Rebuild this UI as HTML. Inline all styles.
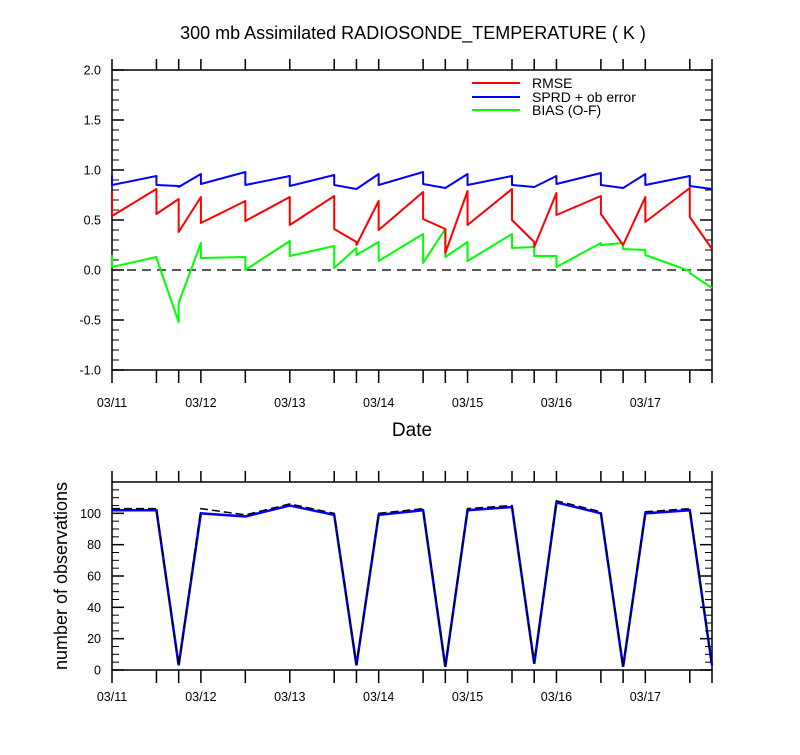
<!DOCTYPE html>
<html><head><meta charset="utf-8"><style>
body{margin:0;background:#fff;}
svg text{font-family:"Liberation Sans",sans-serif;fill:#000;}
</style></head><body>
<svg id="chart" width="800" height="750" xmlns="http://www.w3.org/2000/svg">
<text x="413" y="39" font-size="18" text-anchor="middle">300 mb Assimilated RADIOSONDE_TEMPERATURE ( K )</text>
<text x="412" y="436" font-size="19" text-anchor="middle">Date</text>
<text transform="translate(67,576) rotate(-90)" font-size="18" text-anchor="middle">number of observations</text>
<g id="topPanel"></g>
<g id="botPanel"></g>
<g id="legend">
<line x1="472" y1="83" x2="520" y2="83" stroke="#f00" stroke-width="2"/>
<text x="532" y="88" font-size="14">RMSE</text>
<line x1="472" y1="97" x2="520" y2="97" stroke="#00f" stroke-width="2"/>
<text x="532" y="102" font-size="14">SPRD + ob error</text>
<line x1="472" y1="110" x2="520" y2="110" stroke="#0f0" stroke-width="2"/>
<text x="532" y="115" font-size="14">BIAS (O-F)</text>
</g>
</svg>
<script>
const hours=[0,12,18,24,36,48,60,66,72,84,90,96,108,114,120,132,138,144,156,162];
const dayLabels=["03/11","03/12","03/13","03/14","03/15","03/16","03/17"];
const rmseIn=[0.78,0.81,0.71,0.73,0.69,0.73,0.74,0.28,0.69,0.78,0.41,0.79,0.81,0.28,0.77,0.74,0.25,0.73,0.82,0.21];
const rmseOut=[0.54,0.56,0.38,0.47,0.49,0.45,0.41,0.25,0.40,0.51,0.17,0.45,0.50,0.23,0.55,0.56,0.25,0.48,0.53,0.21];
const sprdIn=[0.95,0.94,0.84,0.96,0.98,0.94,0.95,0.81,0.96,0.98,0.82,0.96,0.94,0.83,0.94,0.97,0.82,0.96,0.94,0.81];
const sprdOut=[0.85,0.85,0.83,0.86,0.85,0.84,0.85,0.81,0.85,0.86,0.82,0.85,0.85,0.83,0.86,0.85,0.82,0.85,0.84,0.81];
const biasIn=[0.15,0.13,-0.52,0.27,0.13,0.29,0.24,0.22,0.28,0.36,0.41,0.28,0.36,0.23,0.14,0.27,0.27,0.20,-0.01,-0.18];
const biasOut=[0.03,0.12,-0.33,0.12,0.00,0.14,0.02,0.15,0.09,0.07,0.13,0.09,0.22,0.14,0.03,0.25,0.21,0.15,-0.03,-0.18];
const obsAssim=[102,102,3,100,98,105,99,3,99,102,2,102,104,4,107,100,2,100,102,3];
const obsTotal=[103,103,3,103,99,106,100,3,100,103,2,103,105,4,108,101,2,101,103,3];
const NS="http://www.w3.org/2000/svg";
const X0=112,X1=712,H0=0,H1=162;
function xs(h){return X0+(h-H0)/(H1-H0)*(X1-X0);}
function ty(v){return 370-(v+1)/3*300;}
function by(v){return 670-v/120*188;}
function mk(p,tag,at){const e=document.createElementNS(NS,tag);for(const k in at)e.setAttribute(k,at[k]);p.appendChild(e);return e;}
const topG=document.getElementById('topPanel'),botG=document.getElementById('botPanel');
function frame(g,yT,yB,name){
  const r=mk(g,'rect',{x:X0,y:yT,width:X1-X0,height:yB-yT,fill:'none',stroke:'#000','stroke-width':1.5});
  
  
  hours.forEach(h=>{
    const x=xs(h);
    const a=mk(g,'line',{x1:x,y1:yT-11,x2:x,y2:yT,stroke:'#000','stroke-width':1.5});
    
    
    const b=mk(g,'line',{x1:x,y1:yB,x2:x,y2:yB+13,stroke:'#000','stroke-width':1.5});
    
    
  });
}
function xlabels(g,y){
  dayLabels.forEach((d,i)=>{
    const t=mk(g,'text',{x:xs(i*24),y:y,'font-size':12.5,'text-anchor':'middle'});
    t.textContent=d;
    
    
  });
}
function yticks(g,vals,minors,yf,fmt,majLen){
  minors.forEach(v=>{
    [[X0,X0+7],[X1,X1-7]].forEach(([a,b])=>{
      const l=mk(g,'line',{x1:a,y1:yf(v),x2:b,y2:yf(v),stroke:'#000','stroke-width':1});
      
      
    });
  });
  vals.forEach(v=>{
    [[X0,X0+majLen],[X1,X1-majLen]].forEach(([a,b])=>{
      const l=mk(g,'line',{x1:a,y1:yf(v),x2:b,y2:yf(v),stroke:'#000','stroke-width':1.5});
      
      
    });
    const t=mk(g,'text',{x:X0-11,y:yf(v)+4.5,'font-size':12.5,'text-anchor':'end'});
    t.textContent=fmt(v);
    
    
  });
}
frame(topG,70,370,'stats-panel');
const tmaj=[-1,-0.5,0,0.5,1,1.5,2];
const tmin=[];for(let i=-10;i<=20;i++)if(i%5)tmin.push(i/10);
yticks(topG,tmaj,tmin,ty,v=>v.toFixed(1),12);
xlabels(topG,407);
const zl=mk(topG,'line',{x1:X0,y1:ty(0),x2:X1,y2:ty(0),stroke:'#222','stroke-width':1.5,'stroke-dasharray':'9,6'});


function saw(ins,outs,color,name){
  let d='';
  hours.forEach((h,i)=>{d+=(i?'L':'M')+xs(h)+','+ty(ins[i])+'L'+xs(h)+','+ty(outs[i]);});
  const p=mk(topG,'path',{d:d,fill:'none',stroke:color,'stroke-width':2,'stroke-linejoin':'round'});
  
  
}
saw(biasIn,biasOut,'#0f0','bias-line');
saw(rmseIn,rmseOut,'#f00','rmse-line');
saw(sprdIn,sprdOut,'#00f','sprd-line');
frame(botG,482,670,'observations-panel');
const bmaj=[0,20,40,60,80,100];
const bmin=[];for(let v=5;v<120;v+=5)if(v%20)bmin.push(v);
yticks(botG,bmaj,bmin,by,v=>String(v),12);
xlabels(botG,701);
function obsLine(vals,attrs,name){
  const pts=hours.map((h,i)=>xs(h)+','+by(vals[i])).join(' ');
  const p=mk(botG,'polyline',Object.assign({points:pts,fill:'none'},attrs));
  
  
}
obsLine(obsAssim,{stroke:'#00f','stroke-width':2.5},'assimilated-obs-line');
obsLine(obsTotal,{stroke:'#000','stroke-width':1.5,'stroke-dasharray':'8,4'},'total-obs-line');
</script>
</body></html>
